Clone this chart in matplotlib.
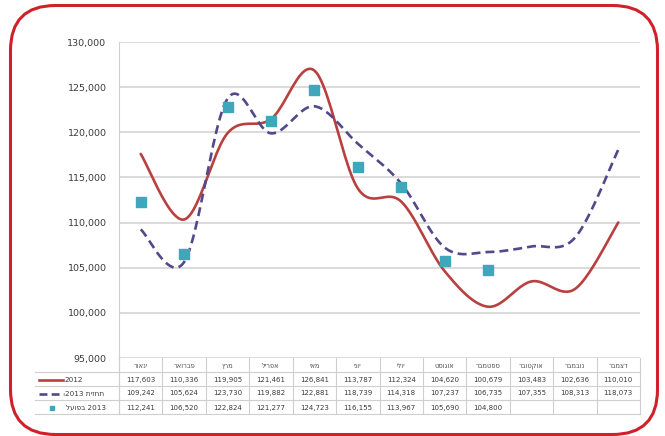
import numpy as np
import matplotlib
matplotlib.use('Agg')
import matplotlib.pyplot as plt
from matplotlib.patches import FancyBboxPatch
from matplotlib.lines import Line2D
from matplotlib.transforms import blended_transform_factory

# Hebrew month names (stored in visual order for left-to-right rendering)
months = ["רואני", "ראורבפ", "ץרמ", "לירפא", "יאמ", "ינוי",
          "ילוי", "טסוגוא", "רבמטפס", "רבוטקוא", "רבמבונ", "רבמצד"]
series_2012 = [117603, 110336, 119905, 121461, 126841, 113787,
               112324, 104620, 100679, 103483, 102636, 110010]
series_2013_forecast = [109242, 105624, 123730, 119882, 122881, 118739,
                        114318, 107237, 106735, 107355, 108313, 118073]
series_2013_actual = [112241, 106520, 122824, 121277, 124723, 116155,
                      113967, 105690, 104800]
label_2012 = "2012"
label_forecast = "2013 תיזחת"
label_actual = "לעופב 2013"
yticks = [95000, 100000, 105000, 110000, 115000, 120000, 125000, 130000]

W, H = 665, 436
fig = plt.figure(figsize=(W / 100, H / 100), dpi=100)
fig.patch.set_facecolor('white')


def fx(px):
    return px / W


def fy(py):
    return 1 - py / H


def catmull(x, y, n=24):
    P = np.column_stack([x, y]).astype(float)
    out = []
    m = len(P)
    for i in range(m - 1):
        p0 = P[i - 1] if i > 0 else P[i]
        p1 = P[i]
        p2 = P[i + 1]
        p3 = P[i + 2] if i + 2 < m else P[i + 1]
        t = np.linspace(0, 1, n, endpoint=(i == m - 2))[:, None]
        pts = 0.5 * (2 * p1 + (-p0 + p2) * t
                     + (2 * p0 - 5 * p1 + 4 * p2 - p3) * t ** 2
                     + (-p0 + 3 * p1 - 3 * p2 + p3) * t ** 3)
        out.append(pts)
    out = np.vstack(out)
    return out[:, 0], out[:, 1]


left_px, right_px, top_px, bot_px = 119, 640, 42, 358
ax = fig.add_axes([fx(left_px), fy(bot_px), (right_px - left_px) / W,
                   (bot_px - top_px) / H])
ax.set_xlim(-0.5, 11.5)
ax.set_ylim(95000, 130000)
ax.set_yticks(yticks)
ax.set_yticklabels([f"{v:,}" for v in yticks], fontsize=6.8,
                   color='#3a3a3a', family='DejaVu Sans')
ax.set_xticks([])
ax.yaxis.grid(True, color='#dadada', lw=1.4)
ax.set_axisbelow(True)
for s in ['top', 'right', 'bottom']:
    ax.spines[s].set_visible(False)
ax.spines['left'].set_color('#d0d0d0')
ax.tick_params(axis='y', length=0, pad=9)

c_red = '#b8413f'
c_pur = '#54488a'
c_teal = '#3fa7bb'

x = np.arange(12)
sx, sy = catmull(x, series_2012)
ax.plot(sx, sy, color=c_red, lw=1.9, solid_capstyle='round', zorder=3)
fx2, fy2 = catmull(x, series_2013_forecast)
ax.plot(fx2, fy2, color=c_pur, lw=1.9, dashes=(3.4, 1.9), zorder=3)
xa = np.arange(len(series_2013_actual))
ax.plot(xa, series_2013_actual, linestyle='none', marker='s', ms=6.8,
        color=c_teal, mec=c_teal, zorder=4)

# Data table beneath the chart
tr = blended_transform_factory(ax.transData, fig.transFigure)
row_b = [358, 372, 386, 400, 414]
grid_c = '#cfcfcf'
for yb in row_b[1:]:
    fig.add_artist(Line2D([fx(35), fx(right_px)], [fy(yb), fy(yb)],
                          color=grid_c, lw=0.8))
for i in range(13):
    fig.add_artist(Line2D([i - 0.5, i - 0.5], [fy(row_b[0]), fy(row_b[-1])],
                          color=grid_c, lw=0.8, transform=tr))
fig.add_artist(Line2D([fx(left_px), fx(left_px)], [fy(bot_px), fy(row_b[-1])],
                      color=grid_c, lw=0.8))

tc = '#3a3a3a'
for i, m in enumerate(months):
    fig.text(i, fy(365.5), m, transform=tr, ha='center', va='center',
             fontsize=4.8, color='#555555', family='DejaVu Sans')
rows = [series_2012, series_2013_forecast, series_2013_actual]
row_y = [379.5, 393.5, 407.5]
for vals, yy in zip(rows, row_y):
    for i, v in enumerate(vals):
        fig.text(i, fy(yy), f"{v:,}", transform=tr, ha='center',
                 va='center', fontsize=5.0, color=tc, family='DejaVu Sans')

# legend column
fig.add_artist(Line2D([fx(39), fx(63)], [fy(379.5)] * 2, color=c_red, lw=1.9))
fig.text(fx(64), fy(379.5), label_2012, ha='left', va='center',
         fontsize=5.2, color=tc, family='DejaVu Sans')
fig.add_artist(Line2D([fx(39), fx(64)], [fy(393.5)] * 2, color=c_pur, lw=1.9,
                      dashes=(3.0, 1.6)))
fig.text(fx(65), fy(393.5), label_forecast, ha='left', va='center',
         fontsize=5.2, color=tc, family='DejaVu Sans')
fig.add_artist(Line2D([fx(52)], [fy(407.5)], marker='s', ms=3.5,
                      color=c_teal, linestyle='none'))
fig.text(fx(66), fy(407.5), label_actual, ha='left', va='center',
         fontsize=5.2, color=tc, family='DejaVu Sans')

# rounded red frame
frame = FancyBboxPatch((10.5 / 100, 1.5 / 100), (657.5 - 10.5) / 100,
                       (H - 5.5 - 1.5) / 100,
                       boxstyle='round,pad=0,rounding_size=0.45',
                       transform=fig.dpi_scale_trans, fill=False,
                       edgecolor='#d0202a', lw=2.2)
fig.add_artist(frame)

fig.savefig('out.png', dpi=100)
